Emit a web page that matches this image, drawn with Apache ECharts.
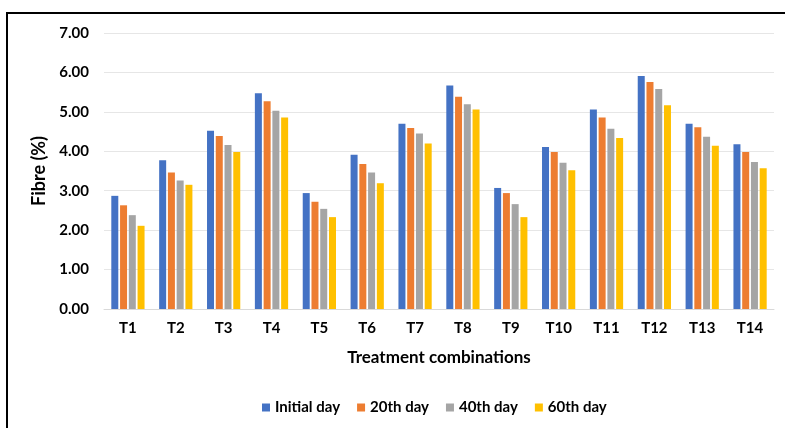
<!DOCTYPE html>
<html><head><meta charset="utf-8">
<script src="https://cdn.jsdelivr.net/npm/echarts@6/dist/echarts.min.js"></script>
<style>html,body{margin:0;padding:0;background:#fff}#c{width:785px;height:428px}</style>
</head><body><div id="c"></div>
<script>
const categories = ['T1','T2','T3','T4','T5','T6','T7','T8','T9','T10','T11','T12','T13','T14'];
const initialDay = [2.87,3.77,4.52,5.47,2.94,3.91,4.70,5.67,3.07,4.11,5.06,5.91,4.70,4.18];
const day20 = [2.63,3.46,4.39,5.27,2.72,3.68,4.59,5.38,2.94,3.98,4.86,5.76,4.61,3.98];
const day40 = [2.38,3.26,4.16,5.03,2.54,3.46,4.45,5.19,2.66,3.71,4.57,5.58,4.37,3.73];
const day60 = [2.11,3.15,3.98,4.86,2.33,3.19,4.20,5.06,2.33,3.52,4.34,5.17,4.14,3.57];
const seriesNames = ['Initial day','20th day','40th day','60th day'];
const colors = ['#4472C4','#ED7D31','#A5A5A5','#FFC000'];
const font = 'Lato, "Liberation Sans", sans-serif';
const chart = echarts.init(document.getElementById('c'));
const mk = (name, data, i) => ({
  name, type: 'bar', data, barWidth: 7, barGap: '25%',
  itemStyle: {color: colors[i]}
});
chart.setOption({
  animation: false,
  graphic: [{type:'polyline', shape:{points:[[7,440],[7,13],[800,13]]}, style:{stroke:'#000', lineWidth:2, fill:null}}],
  grid: {left: 104, right: 11, top: 33, bottom: 119},
  legend: {
    left: 257, top: 395, itemWidth: 8, itemHeight: 8, itemGap: 17,
    icon: 'rect',
    textStyle: {fontFamily: font, fontWeight: 'bold', fontSize: 15, color: '#000', padding:[0,0,0,0]},
    data: seriesNames
  },
  xAxis: {
    type: 'category', data: categories,
    axisLine: {lineStyle: {color: '#D9D9D9'}}, axisTick: {show: false},
    axisLabel: {fontFamily: font, fontWeight: 'bold', fontSize: 15, color: '#000', margin: 12},
    name: 'Treatment combinations', nameLocation: 'middle', nameGap: 40,
    nameTextStyle: {fontFamily: font, fontWeight: 'bold', fontSize: 17, color: '#000'}
  },
  yAxis: {
    type: 'value', min: 0, max: 7, interval: 1,
    axisLabel: {fontFamily: font, fontWeight: 'bold', fontSize: 15, color: '#000', margin: 15, formatter: v => v.toFixed(2)},
    splitLine: {lineStyle: {color: '#E6E6E6'}},
    axisLine: {show: false}, axisTick: {show: false},
    name: 'Fibre (%)', nameLocation: 'middle', nameGap: 51,
    nameTextStyle: {fontFamily: font, fontWeight: 'bold', fontSize: 18, color: '#000'}
  },
  series: [mk(seriesNames[0], initialDay, 0), mk(seriesNames[1], day20, 1), mk(seriesNames[2], day40, 2), mk(seriesNames[3], day60, 3)]
});
</script></body></html>
